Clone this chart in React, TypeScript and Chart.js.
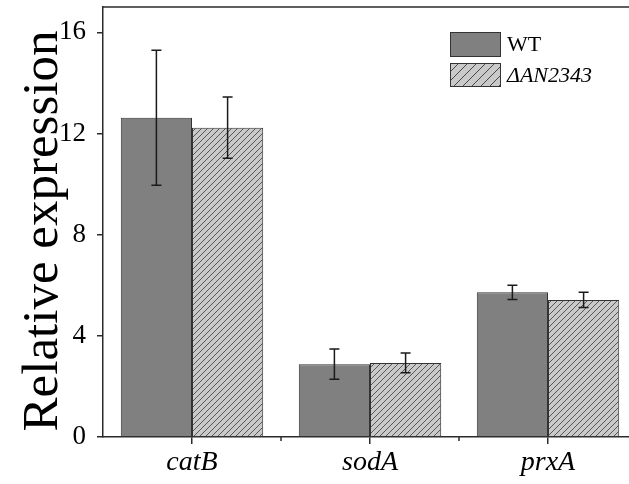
import React, { useEffect, useRef } from "react";
import { Chart, registerables } from "chart.js";

Chart.register(...registerables);

const categories = ["catB", "sodA", "prxA"];
const seriesLabels = ["WT", "ΔAN2343"];
const wtValues = [12.62, 2.88, 5.72];
const wtErrors = [2.67, 0.6, 0.28];
const mutValues = [12.23, 2.93, 5.42];
const mutErrors = [1.21, 0.39, 0.3];
const yTicks = [0, 4, 8, 12, 16];
const yMax = 17;
const yTitle = "Relative expression";

const SERIF = "'Liberation Serif', 'Times New Roman', serif";
const AXIS = "#2b2b2b";

function makeHatch(spacing: number, bg: string, fg: string, lw: number) {
  const c = document.createElement("canvas");
  c.width = spacing;
  c.height = spacing;
  const g = c.getContext("2d")!;
  g.fillStyle = bg;
  g.fillRect(0, 0, spacing, spacing);
  g.strokeStyle = fg;
  g.lineWidth = lw;
  g.beginPath();
  g.moveTo(0, spacing);
  g.lineTo(spacing, 0);
  g.moveTo(-1, 1);
  g.lineTo(1, -1);
  g.moveTo(spacing - 1, spacing + 1);
  g.lineTo(spacing + 1, spacing - 1);
  g.stroke();
  return g.createPattern(c, "repeat")!;
}

export default function App() {
  const ref = useRef<HTMLCanvasElement>(null);

  useEffect(() => {
    const canvas = ref.current!;
    const ctx0 = canvas.getContext("2d")!;
    const hatch = makeHatch(6, "#c9c9c9", "#4a4a4a", 0.9);
    const legendHatch = makeHatch(9, "#c9c9c9", "#3a3a3a", 0.9);
    const WT = "#808080";
    const errors = [wtErrors, mutErrors];

    const extras = {
      id: "extras",
      afterDatasetsDraw(chart: any) {
        const ctx = chart.ctx;
        const y = chart.scales.y;
        const x = chart.scales.x;
        const ca = chart.chartArea;
        ctx.save();
        // error bars
        ctx.strokeStyle = "#1a1a1a";
        ctx.lineWidth = 1.5;
        chart.data.datasets.forEach((ds: any, di: number) => {
          const meta = chart.getDatasetMeta(di);
          meta.data.forEach((el: any, i: number) => {
            const v = ds.data[i];
            const e = errors[di][i];
            const yt = y.getPixelForValue(v + e);
            const yb = y.getPixelForValue(v - e);
            const cw = 5;
            ctx.beginPath();
            ctx.moveTo(el.x, yt);
            ctx.lineTo(el.x, yb);
            ctx.moveTo(el.x - cw, yt);
            ctx.lineTo(el.x + cw, yt);
            ctx.moveTo(el.x - cw, yb);
            ctx.lineTo(el.x + cw, yb);
            ctx.stroke();
          });
        });
        // frame top/right
        ctx.strokeStyle = AXIS;
        ctx.lineWidth = 1.5;
        ctx.beginPath();
        ctx.moveTo(ca.left, ca.top);
        ctx.lineTo(ca.right, ca.top);
        ctx.lineTo(ca.right, ca.bottom);
        ctx.stroke();
        // minor x ticks between categories
        for (let i = 0; i < categories.length - 1; i++) {
          const px = (x.getPixelForValue(i) + x.getPixelForValue(i + 1)) / 2;
          ctx.beginPath();
          ctx.moveTo(px, ca.bottom);
          ctx.lineTo(px, ca.bottom + 4);
          ctx.stroke();
        }
        // y title
        ctx.fillStyle = "#000";
        ctx.font = `51px ${SERIF}`;
        ctx.textAlign = "center";
        ctx.textBaseline = "alphabetic";
        ctx.translate(57, 231);
        ctx.rotate(-Math.PI / 2);
        ctx.fillText(yTitle, 0, 0);
        ctx.restore();

        // legend
        ctx.save();
        const boxes = [
          { x: 450, y: 32, w: 51, h: 25, fill: WT },
          { x: 450, y: 63, w: 51, h: 24, fill: legendHatch },
        ];
        boxes.forEach((b, i) => {
          ctx.fillStyle = b.fill;
          ctx.fillRect(b.x, b.y, b.w, b.h);
          ctx.strokeStyle = "#333";
          ctx.lineWidth = 1;
          ctx.strokeRect(b.x + 0.5, b.y + 0.5, b.w - 1, b.h - 1);
          ctx.fillStyle = "#000";
          ctx.font = `${i === 1 ? "italic " : ""}22px ${SERIF}`;
          ctx.textAlign = "left";
          ctx.textBaseline = "middle";
          ctx.fillText(chart.data.datasets[i].label, b.x + 57, b.y + b.h / 2 + 1);
        });
        ctx.restore();
      },
    };

    const chart = new Chart(ctx0, {
      type: "bar",
      data: {
        labels: categories,
        datasets: [
          {
            label: seriesLabels[0],
            data: wtValues,
            backgroundColor: WT,
            borderColor: "#333",
            borderWidth: 1,
            categoryPercentage: 0.8,
            barPercentage: 1.0,
          },
          {
            label: seriesLabels[1],
            data: mutValues,
            backgroundColor: hatch,
            borderColor: "#333",
            borderWidth: 1,
            categoryPercentage: 0.8,
            barPercentage: 1.0,
          },
        ],
      },
      options: {
        responsive: false,
        animation: false,
        devicePixelRatio: 1,
        layout: { padding: { left: 0, top: 7, right: 23, bottom: 0 } },
        plugins: {
          legend: { display: false },
          tooltip: { enabled: false },
        },
        scales: {
          x: {
            type: "category",
            offset: true,
            grid: {
              display: true,
              drawOnChartArea: false,
              drawTicks: true,
              tickLength: 7,
              offset: false,
              color: AXIS,
              lineWidth: 1.5,
            },
            border: { display: true, color: AXIS, width: 1.5 },
            ticks: {
              color: "#000",
              font: { family: SERIF, size: 28, style: "italic" },
              padding: 2,
              maxRotation: 0,
            },
            afterFit: (s: any) => {
              s.height = 47;
              s.paddingLeft = 0;
              s.paddingRight = 0;
            },
          },
          y: {
            type: "linear",
            min: 0,
            max: yMax,
            afterBuildTicks: (s: any) => {
              s.ticks = yTicks.map((v) => ({ value: v }));
            },
            grid: {
              display: true,
              drawOnChartArea: false,
              drawTicks: true,
              tickLength: 6,
              color: AXIS,
              lineWidth: 1.5,
            },
            border: { display: true, color: AXIS, width: 1.5 },
            ticks: {
              color: "#000",
              font: { family: SERIF, size: 27 },
              padding: 11,
            },
            afterFit: (s: any) => {
              s.width = 103;
              s.paddingTop = 0;
              s.paddingBottom = 0;
            },
          },
        },
      },
      plugins: [extras],
    });
    return () => chart.destroy();
  }, []);

  return (
    <div
      style={{
        position: "fixed",
        left: 0,
        top: 0,
        width: 629,
        height: 484,
        overflow: "hidden",
        background: "#fff",
      }}
    >
      <canvas ref={ref} width={660} height={484} style={{ display: "block" }} />
    </div>
  );
}
